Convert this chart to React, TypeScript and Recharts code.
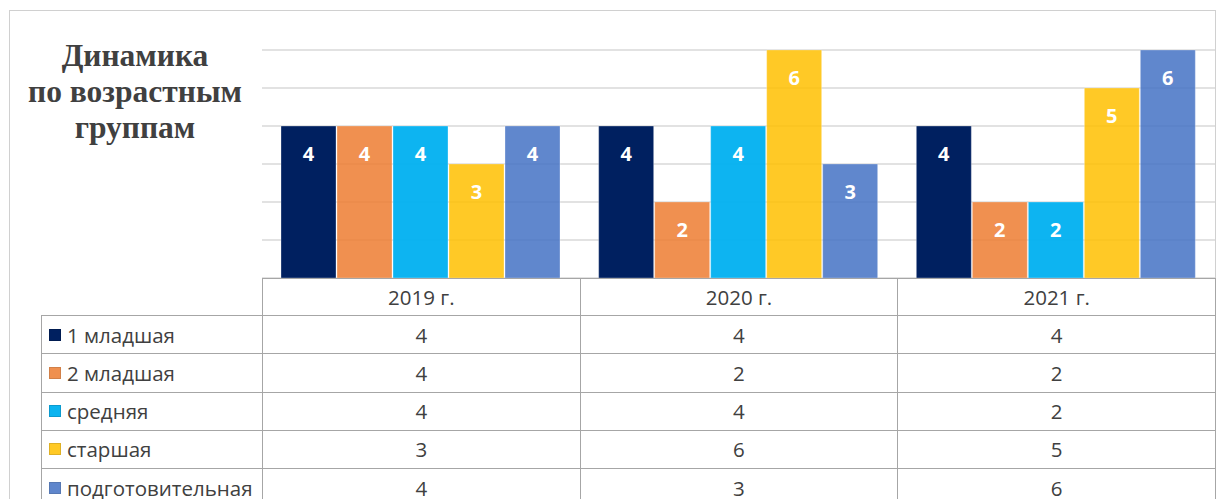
import { BarChart, Bar, XAxis, YAxis, CartesianGrid, LabelList } from "recharts"

const YEARS = ["2019 г.", "2020 г.", "2021 г."]
const GROUPS = ["1 младшая", "2 младшая", "средняя", "старшая", "подготовительная"]
const JUN1 = [4, 4, 4]
const JUN2 = [4, 2, 2]
const MIDDLE = [4, 4, 2]
const SENIOR = [3, 6, 5]
const PREP = [4, 3, 6]
const Y_TICKS = [0, 1, 2, 3, 4, 5, 6]

const SERIES = [JUN1, JUN2, MIDDLE, SENIOR, PREP]
const COLORS = ["#002060", "#ED7D31", "#00B0F0", "#FFC000", "#4472C4"]
const OPACITY = [1, 0.85, 0.95, 0.85, 0.85]

const chartData = YEARS.map((year, i) => {
  const row: Record<string, string | number> = { year }
  SERIES.forEach((s, k) => {
    row["s" + k] = s[i]
  })
  return row
})

const W = 1219
const H = 499
const PLOT_L = 262
const PLOT_R = 1215
const BASE_Y = 278
const HEAD_BOTTOM = 315
const ROW_H = 38.25
const LABEL_L = 41
const COL_W = (PLOT_R - PLOT_L) / 3
const LINE = "#a6a6a6"
const TEXT = "#404040"

function Cell({ left, top, width, height, children, align = "center" }: any) {
  return (
    <div
      style={{
        position: "absolute",
        left,
        top,
        width: width + 1,
        height: height + 1,
        border: `1px solid ${LINE}`,
        boxSizing: "border-box",
        display: "flex",
        alignItems: "center",
        justifyContent: align === "left" ? "flex-start" : "center",
        fontSize: 20.5,
        color: TEXT,
        whiteSpace: "nowrap",
      }}
    >
      {children}
    </div>
  )
}

export default function App() {
  return (
    <div
      style={{
        position: "absolute",
        left: 0,
        top: 0,
        width: W,
        height: H,
        overflow: "hidden",
        background: "#ffffff",
        fontFamily: "'Open Sans', sans-serif",
      }}
    >
      <div
        style={{
          position: "absolute",
          left: 9,
          top: 10,
          width: 1207,
          height: 600,
          border: "1px solid #d0d0d0",
          boxSizing: "border-box",
        }}
      />
      <div
        style={{
          position: "absolute",
          left: 10,
          top: 38,
          width: 250,
          textAlign: "center",
          fontFamily: "'Liberation Serif', serif",
          fontWeight: 700,
          fontSize: 31.5,
          lineHeight: "36px",
          color: TEXT,
        }}
      >
        Динамика
        <br />
        по возрастным
        <br />
        группам
      </div>

      <div style={{ position: "absolute", left: 0, top: 0 }}>
        <BarChart
          width={W}
          height={H}
          data={chartData}
          margin={{ top: 50, right: W - PLOT_R, left: PLOT_L, bottom: H - BASE_Y }}
          barCategoryGap={19}
          barGap={1}
        >
          <CartesianGrid vertical={false} stroke="#d9d9d9" strokeWidth={1.3} />
          <YAxis hide domain={[0, 6]} ticks={Y_TICKS} />
          <XAxis
            dataKey="year"
            height={0}
            tick={false}
            tickLine={false}
            axisLine={{ stroke: "#595959", strokeWidth: 2 }}
          />
          {SERIES.map((_, k) => (
            <Bar
              key={k}
              dataKey={"s" + k}
              fill={COLORS[k]}
              fillOpacity={OPACITY[k]}
              stroke="#ffffff"
              strokeOpacity={0.5}
              strokeWidth={0.6}
              isAnimationActive={false}
            >
              <LabelList
                dataKey={"s" + k}
                position="insideTop"
                offset={21}
                fill="#ffffff"
                fontSize={20}
                fontWeight={700}
                fontFamily="'Open Sans', sans-serif"
              />
            </Bar>
          ))}
        </BarChart>
      </div>

      {YEARS.map((y, i) => (
        <Cell key={y} left={PLOT_L + i * COL_W} top={BASE_Y} width={COL_W} height={HEAD_BOTTOM - BASE_Y}>
          {y}
        </Cell>
      ))}
      {GROUPS.map((g, r) => (
        <div key={g}>
          <Cell left={LABEL_L} top={HEAD_BOTTOM + r * ROW_H} width={PLOT_L - LABEL_L} height={ROW_H} align="left">
            <span
              style={{
                display: "inline-block",
                width: 12,
                height: 12,
                marginLeft: 7,
                marginRight: 6,
                background: COLORS[r],
                opacity: OPACITY[r],
                boxSizing: "border-box",
                border: "1px solid rgba(0,0,0,0.15)",
              }}
            />
            {g}
          </Cell>
          {YEARS.map((y, i) => (
            <Cell key={y} left={PLOT_L + i * COL_W} top={HEAD_BOTTOM + r * ROW_H} width={COL_W} height={ROW_H}>
              {SERIES[r][i]}
            </Cell>
          ))}
        </div>
      ))}
    </div>
  )
}
